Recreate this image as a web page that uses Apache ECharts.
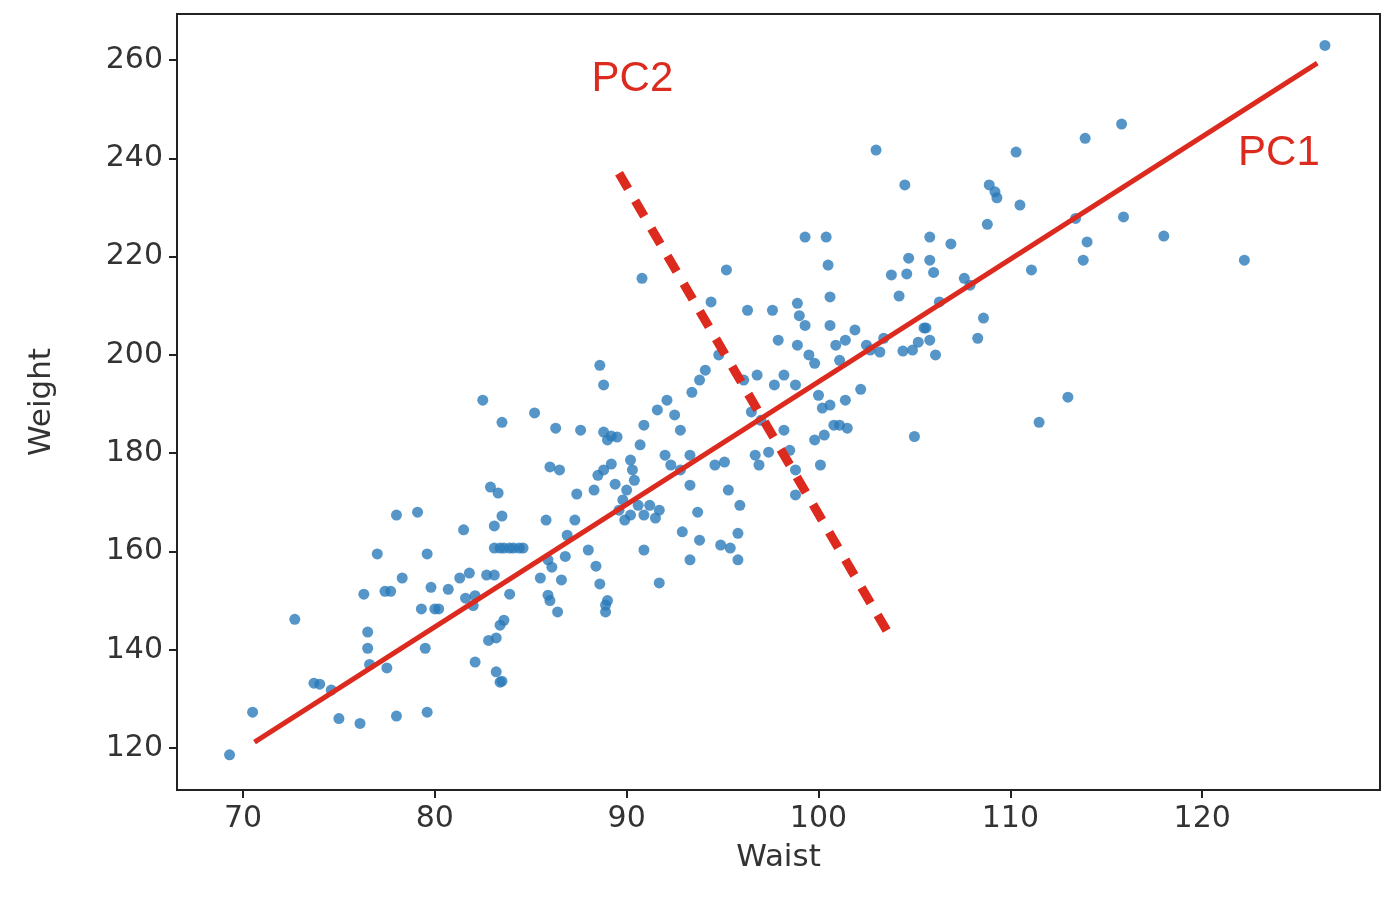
<!DOCTYPE html>
<html><head><meta charset="utf-8">
<script src="https://cdn.jsdelivr.net/npm/echarts@6/dist/echarts.min.js"></script>
<style>html,body{margin:0;background:#fff}#c{width:1400px;height:916px}</style>
</head><body><div id="c"></div>
<script>
// waist / weight samples
var points = [
[69.3,118.6],[70.5,127.3],[72.7,146.2],[73.7,133.2],[74,133],[74.6,131.8],[75,126],[76.1,125],[76.3,151.3],[76.5,143.6],
[76.5,140.3],[76.6,137],[77,159.5],[77.5,136.3],[78,167.4],[78,126.5],[78.3,154.6],[77.7,151.9],[77.4,151.9],[79.1,168],
[79.5,140.3],[79.6,127.3],[79.6,159.5],[79.3,148.3],[79.8,152.7],[80,148.3],[80.2,148.3],[80.7,152.3],[81.5,164.4],[81.3,154.6],
[81.6,150.5],[81.8,155.6],[82,149],[82.1,151],[82.5,190.8],[82.1,137.5],[82.9,173.1],[83.3,171.9],[83.5,167.2],[83.1,165.2],
[83.1,160.7],[83.4,160.7],[83.6,160.7],[83.9,160.7],[84.1,160.7],[84.4,160.7],[84.6,160.7],[82.7,155.2],[83.1,155.2],[82.8,141.9],
[83.2,142.4],[83.2,135.5],[83.4,133.4],[83.5,133.6],[83.5,186.3],[83.9,151.3],[83.4,145],[83.6,146],[85.2,188.2],[85.5,154.6],
[85.8,166.4],[85.9,158.3],[86.1,156.8],[86,150],[86.4,147.7],[85.9,151.1],[86.3,185.1],[86,177.2],[86.5,176.6],[86.6,154.2],
[86.9,163.3],[86.8,159],[87.3,166.4],[87.4,171.7],[87.6,184.7],[88,160.3],[88.4,157],[88.6,153.4],[88.6,197.9],[88.8,193.9],
[88.9,149.1],[88.9,147.7],[89,150],[88.5,175.5],[88.3,172.5],[88.8,176.6],[88.8,184.3],[89,182.7],[89.2,183.5],[89.5,183.3],
[89.2,177.8],[89.4,173.7],[89.6,168.4],[89.8,170.5],[90,172.5],[90.2,178.6],[90.3,176.6],[90.4,174.5],[90.2,167.4],[89.9,166.4],
[90.8,215.6],[90.7,181.7],[90.9,185.7],[90.6,169.4],[90.9,167.4],[91.2,169.4],[91.5,166.8],[91.7,168.4],[90.9,160.3],[91.7,153.6],
[91.6,188.8],[92.1,190.8],[92.5,187.8],[92,179.6],[92.3,177.6],[92.8,176.6],[93.3,179.6],[92.8,184.7],[93.4,192.4],[93.8,194.9],
[94.1,196.9],[93.3,173.5],[93.7,168],[93.3,158.3],[92.9,164],[93.8,162.3],[94.4,210.8],[95.2,217.3],[94.8,200],[94.6,177.6],
[95.1,178.2],[95.3,172.5],[94.9,161.3],[95.4,160.7],[95.8,163.7],[95.9,169.4],[95.8,158.3],[96.3,209.1],[96.1,194.9],[96.5,188.4],
[96.8,195.9],[97,186.7],[96.7,179.6],[96.9,177.6],[97.4,180.2],[97.7,193.9],[97.6,209.1],[97.9,203],[98.2,195.9],[98.8,193.9],
[98.2,184.7],[98.5,180.6],[98.8,176.6],[98.8,171.5],[98.9,210.5],[99,208],[99.3,206],[99.3,224],[98.9,202],[99.5,200],
[99.8,198.3],[100,191.8],[100.2,189.2],[99.8,182.7],[100.1,177.6],[100.3,183.7],[100.6,189.8],[100.8,185.7],[100.4,224],[100.5,218.3],
[100.6,211.8],[100.6,206],[100.9,202],[101.1,198.9],[101.4,203],[101.4,190.8],[101.1,185.7],[101.5,185.1],[101.9,205.1],[102.2,193],
[102.5,202],[103,241.7],[102.7,201],[103.2,200.6],[103.4,203.4],[103.8,216.3],[104.2,212],[104.4,200.8],[104.6,216.5],[104.7,219.7],
[104.5,234.6],[105,183.4],[104.9,201],[105.2,202.6],[105.5,205.5],[105.6,205.5],[105.8,203],[106.1,200],[105.8,219.3],[106,216.8],
[105.8,224],[106.9,222.6],[106.3,210.8],[107.6,215.6],[107.9,214.2],[108.3,203.4],[108.6,207.5],[108.8,226.6],[108.9,234.6],[109.2,233.2],
[109.3,232],[110.5,230.5],[111.1,217.3],[110.3,241.3],[111.5,186.3],[113,191.4],[113.4,227.8],[113.9,244.1],[114,223],[113.8,219.3],
[115.8,247],[115.9,228.1],[118,224.2],[122.2,219.3],[126.4,263]
];
var pc1 = [[70.6,121.2],[126,259.4]];
var pc2 = [[89.6,237],[103.6,143.6]];
var pcLabels = [['PC2',90.3,256],['PC1',124,241]];
var xTicks = [70,80,90,100,110,120];
var yTicks = [120,140,160,180,200,220,240,260];

var red = '#dc2a1e';
var font = 'DejaVu Sans';
var chart = echarts.init(document.getElementById('c'));
chart.setOption({
  animation:false,
  grid:{left:177,right:20,top:14,bottom:126,show:true,borderColor:'#222',borderWidth:2},
  xAxis:{type:'value',min:66.56,max:129.27,
    name:'Waist',nameLocation:'middle',nameGap:52,
    nameTextStyle:{fontFamily:font,fontSize:31,color:'#333'},
    axisLine:{show:true,lineStyle:{color:'#222',width:2}},
    axisTick:{show:true,length:8,customValues:xTicks,lineStyle:{color:'#222',width:2}},
    axisLabel:{fontFamily:font,fontSize:30,color:'#333',margin:14,customValues:xTicks},
    splitLine:{show:false}},
  yAxis:{type:'value',min:111.45,max:269.4,
    name:'Weight',nameLocation:'middle',nameGap:120,nameRotate:90,
    nameTextStyle:{fontFamily:font,fontSize:31,color:'#333'},
    axisLine:{show:true,lineStyle:{color:'#222',width:2}},
    axisTick:{show:true,length:8,customValues:yTicks,lineStyle:{color:'#222',width:2}},
    axisLabel:{fontFamily:font,fontSize:30,color:'#333',margin:14,customValues:yTicks},
    splitLine:{show:false}},
  series:[
    {type:'scatter',data:points,symbolSize:11,itemStyle:{color:'#2b7bb9'}},
    {type:'line',data:pc1,symbol:'none',lineStyle:{color:red,width:5}},
    {type:'line',data:pc2,symbol:'none',lineStyle:{color:red,width:9,type:[18,14]}},
    {type:'scatter',data:pcLabels.map(function(d){return {value:[d[1],d[2]],name:d[0]};}),
      symbolSize:0,itemStyle:{opacity:1},label:{show:true,position:'inside',formatter:'{b}',
      fontFamily:'Liberation Sans',fontSize:42,color:red,opacity:1}}
  ]
});
</script></body></html>
